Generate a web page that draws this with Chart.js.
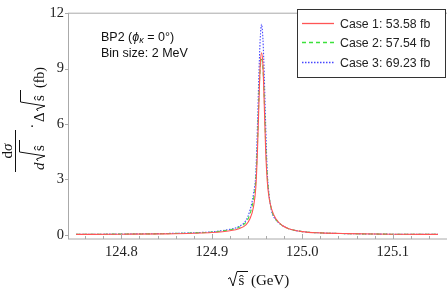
<!DOCTYPE html>
<html lang="en">
<head>
<meta charset="utf-8" />
<title>BP2 peak</title>
<style>
  html, body { margin: 0; padding: 0; background: #fff; }
  .plot { width: 447px; height: 289px; position: relative; }
</style>
</head>
<body>
<div class="plot"><canvas id="mychart"></canvas></div>
<script src="https://cdn.jsdelivr.net/npm/chart.js"></script>
<script>
// sqrt(s-hat) in GeV (denser near the peak)
const sqrtS = [124.75, 124.80, 124.85, 124.88, 124.90, 124.92, 124.93, 124.938, 124.942, 124.946,
  124.9487, 124.9505, 124.952, 124.9535, 124.955, 124.9565, 124.958, 124.9595, 124.9613, 124.963,
  124.966, 124.971, 124.978, 124.985, 125.00, 125.02, 125.05, 125.10, 125.15];
const case1 = [0.02, 0.03, 0.05, 0.08, 0.12, 0.22, 0.33, 0.55, 0.85, 1.5,
  2.6, 4.6, 7.0, 9.2, 9.86, 9.2, 7.0, 4.6, 2.9, 2.1,
  1.4, 0.85, 0.5, 0.33, 0.17, 0.10, 0.06, 0.03, 0.02];
const case2 = [0.02, 0.035, 0.06, 0.10, 0.14, 0.27, 0.40, 0.7, 1.1, 1.9,
  3.0, 5.0, 7.4, 9.0, 9.5, 9.0, 7.4, 5.0, 3.2, 2.2,
  1.35, 0.82, 0.5, 0.33, 0.17, 0.10, 0.06, 0.03, 0.02];
const case3 = [0.02, 0.04, 0.07, 0.11, 0.16, 0.30, 0.45, 0.8, 1.3, 2.2,
  3.4, 6.0, 8.6, 10.6, 11.4, 10.6, 8.6, 6.0, 3.4, 2.3,
  1.3, 0.8, 0.5, 0.33, 0.17, 0.10, 0.06, 0.03, 0.02];
const caseLabels = ['Case 1: 53.58 fb', 'Case 2: 57.54 fb', 'Case 3: 69.23 fb'];
const xTicks = [124.8, 124.9, 125.0, 125.1];
const yTicks = [0, 3, 6, 9, 12];

const SERIF = '"Liberation Serif", "DejaVu Serif", serif';
const SANS = '"Liberation Sans", Arial, sans-serif';

function pts(ys) {
  return sqrtS.map((x, i) => ({ x: x, y: ys[i] }));
}

// radical sign: x start, text baseline, top of the bar, width of the bar
function radical(ctx, x, base, top, w) {
  ctx.beginPath();
  ctx.moveTo(x, base - 6);
  ctx.lineTo(x + 2, base - 7.5);
  ctx.lineTo(x + 5, base + 1);
  ctx.lineTo(x + 9, top);
  ctx.lineTo(x + 9 + w, top);
  ctx.stroke();
}

const framePlugin = {
  id: 'frame',
  afterDatasetsDraw(chart) {
    const ctx = chart.ctx;
    const a = chart.chartArea;
    const xs = chart.scales.x, ys = chart.scales.y;
    ctx.save();
    ctx.strokeStyle = '#aaa';
    ctx.lineWidth = 1;
    ctx.strokeRect(a.left + 0.5, a.top + 0.5, a.right - a.left, a.bottom - a.top - 0.5);
    // inward ticks on the bottom axis, minor every 0.02
    ctx.beginPath();
    for (let v = 124.76; v < 125.16; v += 0.02) {
      const px = Math.round(xs.getPixelForValue(v)) + 0.5;
      const major = xTicks.some(t => Math.abs(t - v) < 1e-6);
      ctx.moveTo(px, a.bottom);
      ctx.lineTo(px, a.bottom - (major ? 5 : 3));
    }
    // short ticks on the left axis
    yTicks.forEach(v => {
      const py = Math.round(ys.getPixelForValue(v)) + 0.5;
      ctx.moveTo(a.left - 3, py);
      ctx.lineTo(a.left + 1, py);
    });
    ctx.stroke();
    ctx.restore();
  },
  afterDraw(chart) {
    const ctx = chart.ctx;
    ctx.save();
    ctx.fillStyle = '#111';
    ctx.strokeStyle = '#111';
    ctx.lineWidth = 1;
    ctx.textBaseline = 'alphabetic';

    // notes in the top left
    ctx.font = '12.5px ' + SANS;
    let x = 101;
    ctx.fillText('BP2 (', x, 40.5);
    x += ctx.measureText('BP2 (').width;
    ctx.font = 'italic 12.5px ' + SANS;
    ctx.fillText('ϕ', x, 40.5);
    x += ctx.measureText('ϕ').width;
    ctx.font = 'italic 9px ' + SANS;
    ctx.fillText('κ', x, 43);
    x += ctx.measureText('κ').width;
    ctx.font = '12.5px ' + SANS;
    ctx.fillText(' = 0°)', x, 40.5);
    ctx.fillText('Bin size: 2 MeV', 101, 57);

    // legend box
    ctx.fillStyle = '#fff';
    ctx.fillRect(297.5, 9.5, 148, 68);
    ctx.strokeStyle = '#333';
    ctx.strokeRect(297.5, 9.5, 148, 68);
    chart.data.datasets.forEach((ds, i) => {
      const y = Math.round(22.5 + i * 19.8) + 0.5;
      ctx.strokeStyle = ds.borderColor;
      ctx.lineWidth = 1.3;
      ctx.setLineDash(ds.borderDash || []);
      ctx.beginPath();
      ctx.moveTo(302, y);
      ctx.lineTo(334, y);
      ctx.stroke();
      ctx.setLineDash([]);
      ctx.lineWidth = 1;
      ctx.fillStyle = '#222';
      ctx.font = '12.3px ' + SANS;
      ctx.fillText(ds.label, 340, y + 4.5);
    });

    // x title: sqrt(s-hat) (GeV)
    ctx.fillStyle = '#111';
    ctx.strokeStyle = '#111';
    ctx.font = '15px ' + SERIF;
    radical(ctx, 228, 285, 271.5, 11);
    ctx.fillText('ŝ', 238.5, 285);
    ctx.fillText('(GeV)', 251, 285);

    // y title, rotated: dσ / d√ŝ . Δ√ŝ (fb)
    ctx.translate(0, 151);
    ctx.rotate(-Math.PI / 2);
    ctx.beginPath();
    ctx.moveTo(-21, 15.5);
    ctx.lineTo(21, 15.5);
    ctx.stroke();
    ctx.font = '15px ' + SERIF;
    const wd = ctx.measureText('d').width;
    ctx.font = 'italic 15px ' + SERIF;
    const ws = ctx.measureText('σ').width;
    let u = -(wd + ws) / 2;
    ctx.font = '15px ' + SERIF;
    ctx.fillText('d', u, 12);
    ctx.font = 'italic 15px ' + SERIF;
    ctx.fillText('σ', u + wd, 12);
    ctx.fillText('d', -19, 44);
    radical(ctx, -10, 44, 19.5, 12);
    ctx.font = '15px ' + SERIF;
    ctx.fillText('ŝ', 0, 44);
    ctx.fillText('.', 23, 33);
    ctx.fillText('Δ', 29, 44);
    radical(ctx, 40, 44, 20.5, 12);
    ctx.fillText('ŝ', 50, 44);
    ctx.font = '14px ' + SERIF;
    ctx.fillText('(fb)', 63, 44);
    ctx.restore();
  }
};

const mychart = document.getElementById('mychart');

new Chart(mychart, {
  type: 'line',
  data: {
    datasets: [{
      label: caseLabels[0],
      data: pts(case1),
      borderColor: 'rgb(255, 85, 85)',
      borderWidth: 1.1,
    }, {
      label: caseLabels[1],
      data: pts(case2),
      borderColor: 'rgb(60, 225, 60)',
      borderDash: [4, 3],
      borderWidth: 1.1,
    }, {
      label: caseLabels[2],
      data: pts(case3),
      borderColor: 'rgb(70, 70, 255)',
      borderDash: [1.5, 1.5],
      borderWidth: 1.1,
    }],
  },
  options: {
    responsive: true,
    maintainAspectRatio: false,
    animation: false,
    parsing: false,
    cubicInterpolationMode: 'monotone',
    elements: { point: { radius: 0 } },
    layout: { autoPadding: false, padding: { left: 0, right: 0, top: 5, bottom: 0 } },
    plugins: { legend: { display: false }, tooltip: { enabled: false } },
    scales: {
      x: {
        type: 'linear',
        min: 124.741,
        max: 125.16,
        afterFit: s => { s.height = 50; },
        afterBuildTicks: s => { s.ticks = xTicks.map(v => ({ value: v })); },
        grid: { display: false, drawTicks: false, tickLength: 0 },
        border: { display: false },
        ticks: {
          padding: 4,
          maxRotation: 0,
          autoSkip: false,
          color: '#222',
          font: { family: SERIF, size: 14.5 },
          callback: v => v.toFixed(1),
        },
      },
      y: {
        type: 'linear',
        min: -0.23,
        max: 12.03,
        afterFit: s => { s.width = 68; },
        afterBuildTicks: s => { s.ticks = yTicks.map(v => ({ value: v })); },
        grid: { display: false, drawTicks: false, tickLength: 0 },
        border: { display: false },
        ticks: {
          padding: 4,
          autoSkip: false,
          color: '#222',
          font: { family: SERIF, size: 14.5 },
          callback: v => String(v),
        },
      },
    },
  },
  plugins: [framePlugin],
});
</script>
</body>
</html>
